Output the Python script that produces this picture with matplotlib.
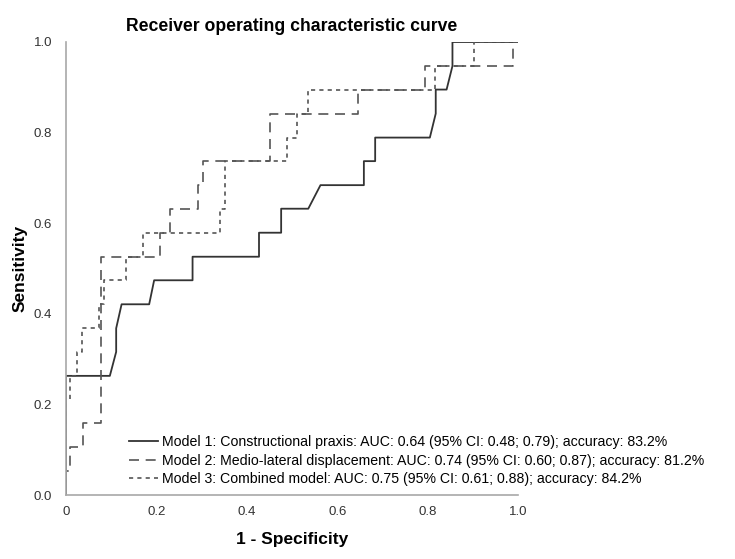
import numpy as np
import matplotlib
matplotlib.use("Agg")
import matplotlib.pyplot as plt

plt.rcParams['font.family'] = ['Liberation Sans', 'DejaVu Sans']

# ROC curve points (1 - specificity, sensitivity)
fpr1 = [0.0, 0.0, 0.097, 0.111, 0.111, 0.123, 0.184, 0.195, 0.280, 0.280, 0.427, 0.427,
        0.476, 0.476, 0.536, 0.563, 0.659, 0.659, 0.684, 0.684, 0.805, 0.818, 0.818,
        0.842, 0.855, 0.855, 1.0]
tpr1 = [0.0, 0.263, 0.263, 0.316, 0.368, 0.421, 0.421, 0.474, 0.474, 0.526, 0.526, 0.579,
        0.579, 0.632, 0.632, 0.684, 0.684, 0.737, 0.737, 0.789, 0.789, 0.842, 0.895,
        0.895, 0.947, 1.0, 1.0]

fpr2 = [0.0, 0.0, 0.009, 0.009, 0.038, 0.038, 0.077, 0.077, 0.208, 0.208, 0.230, 0.230,
        0.293, 0.293, 0.304, 0.304, 0.451, 0.451, 0.647, 0.647, 0.794, 0.794, 0.990,
        0.990, 1.0]
tpr2 = [0.0, 0.053, 0.053, 0.105, 0.105, 0.158, 0.158, 0.526, 0.526, 0.579, 0.579, 0.632,
        0.632, 0.684, 0.684, 0.737, 0.737, 0.842, 0.842, 0.895, 0.895, 0.947, 0.947,
        1.0, 1.0]

fpr3 = [0.0, 0.0, 0.009, 0.009, 0.024, 0.024, 0.036, 0.036, 0.073, 0.073, 0.083, 0.083,
        0.133, 0.133, 0.170, 0.170, 0.341, 0.341, 0.352, 0.352, 0.488, 0.488, 0.512,
        0.512, 0.536, 0.536, 0.816, 0.816, 0.903, 0.903, 1.0]
tpr3 = [0.0, 0.211, 0.211, 0.263, 0.263, 0.316, 0.316, 0.368, 0.368, 0.421, 0.421, 0.474,
        0.474, 0.526, 0.526, 0.579, 0.579, 0.631, 0.631, 0.737, 0.737, 0.789, 0.789,
        0.842, 0.842, 0.895, 0.895, 0.947, 0.947, 1.0, 1.0]

labels = ["Model 1: Constructional praxis: AUC: 0.64 (95% CI: 0.48; 0.79); accuracy: 83.2%",
          "Model 2: Medio-lateral displacement: AUC: 0.74 (95% CI: 0.60; 0.87); accuracy: 81.2%",
          "Model 3: Combined model: AUC: 0.75 (95% CI: 0.61; 0.88); accuracy: 84.2%"]

xticks = [0.0, 0.2, 0.4, 0.6, 0.8, 1.0]
xticklabels = ["0", "0.2", "0.4", "0.6", "0.8", "1.0"]
yticks = [0.0, 0.2, 0.4, 0.6, 0.8, 1.0]
yticklabels = ["0.0", "0.2", "0.4", "0.6", "0.8", "1.0"]


fig = plt.figure(figsize=(7.35, 5.59), dpi=100)
ax = fig.add_axes([66/735, 64/559, 452/735, 453/559])

ax.plot(fpr1, tpr1, "-", c="#333333", lw=1.3, label=labels[0])
ax.plot(fpr2, tpr2, c="#555555", lw=1.2, dashes=(6, 4), label=labels[1])
ax.plot(fpr3, tpr3, c="#555555", lw=1.2, dashes=(2.5, 2.5), label=labels[2])

ax.set_xlim(0, 1)
ax.set_ylim(0, 1)
for s in ["top", "right"]:
    ax.spines[s].set_visible(False)
for s in ["left", "bottom"]:
    ax.spines[s].set_color("#a8a8a8")
    ax.spines[s].set_linewidth(1.2)

ax.set_xticks(xticks)
ax.set_xticklabels(xticklabels)
ax.set_yticks(yticks)
ax.set_yticklabels(yticklabels)
ax.tick_params(length=0, labelsize=9.5, colors="#333333")
ax.tick_params(axis="x", pad=8)
ax.tick_params(axis="y", pad=10)

ax.set_title("Receiver operating characteristic curve", fontsize=12.7,
             fontweight="bold", pad=8)
ax.set_xlabel("1 - Specificity", fontsize=12.5, fontweight="bold", labelpad=10)
ax.set_ylabel("Sensitivity", fontsize=12.5, fontweight="bold", labelpad=4)

ax.legend(loc="lower left", bbox_to_anchor=(0.14, 0.02), frameon=False,
          fontsize=10.2, handlelength=2.0, handletextpad=0.3, labelspacing=0.3,
          borderpad=0, borderaxespad=0)

fig.savefig("out.png", dpi=100)
